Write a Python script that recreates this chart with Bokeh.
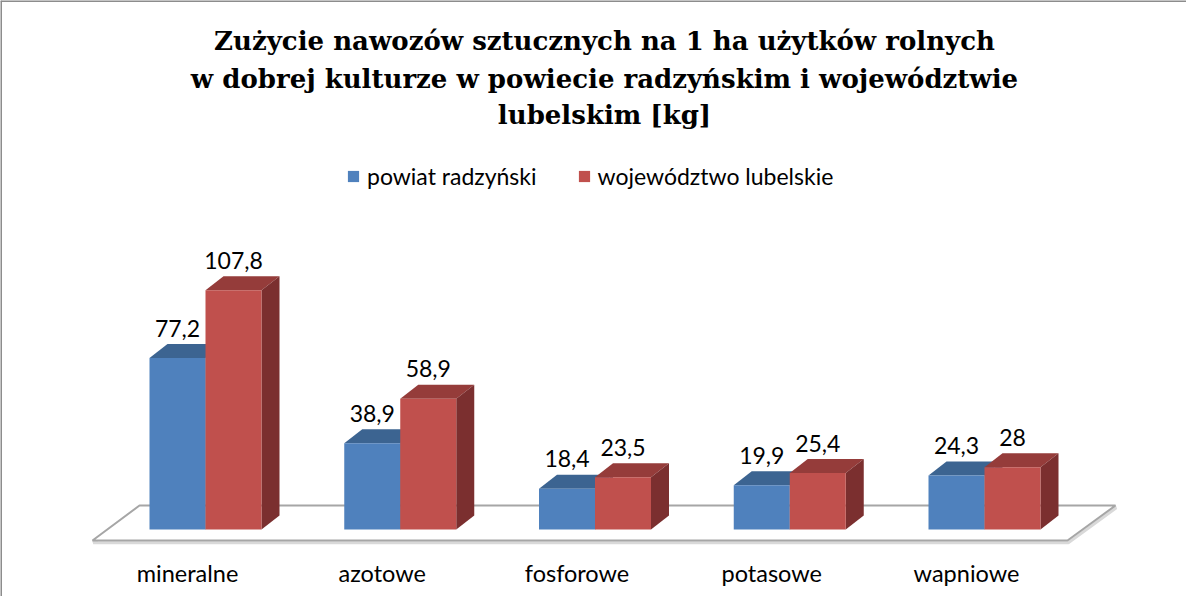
from bokeh.plotting import figure
from bokeh.models import Range1d, Label, Legend, LegendItem, Span
from bokeh.core.properties import value
from bokeh.embed import file_html
from bokeh.resources import INLINE

# ---- data ----
categories = ["mineralne", "azotowe", "fosforowe", "potasowe", "wapniowe"]
series_names = ["powiat radzyński", "województwo lubelskie"]
powiat = [77.2, 38.9, 18.4, 19.9, 24.3]
wojewodztwo = [107.8, 58.9, 23.5, 25.4, 28.0]
labels_powiat = ["77,2", "38,9", "18,4", "19,9", "24,3"]
labels_woj = ["107,8", "58,9", "23,5", "25,4", "28"]
title_lines = ["Zużycie nawozów sztucznych na 1 ha użytków rolnych",
               "w dobrej kulturze w powiecie radzyńskim i województwie",
               "lubelskim [kg]"]

# ---- layout constants ----
W, H = 1186, 596
SX = 194.75      # px per category
SY = 2.22        # px per kg
X0PX = 205       # px of first category centre
Y0PX = 529       # px (from top) of zero line
BW = 56 / SX     # bar width
DX = 18 / SX     # depth x
DY = 14 / SY     # depth y

FONT = "Lato"
TFONT = "DejaVu Serif"

p = figure(width=W, height=H, output_backend="svg", toolbar_location=None,
           x_range=Range1d(-X0PX / SX, (W - X0PX) / SX),
           y_range=Range1d(-(H - Y0PX) / SY, Y0PX / SY),
           min_border=0, outline_line_color=None)
p.axis.visible = False
p.grid.visible = False
p.background_fill_color = "white"
p.border_fill_color = "white"

# frame border (top and left)
p.add_layout(Span(location=p.y_range.end, dimension="width", line_color="#8C8C8C", line_width=3))
p.add_layout(Span(location=p.x_range.start, dimension="height", line_color="#8C8C8C", line_width=3))

# floor
fl_front = -11 / SY
fl_back = 24 / SY
fx = [(100 - 213) / SX, (147 - 213) / SX, (1123 - 213) / SX, (1075 - 213) / SX]
p.patch([v + 0.004 for v in fx],
        [fl_front - 1.0, fl_back - 1.0, fl_back - 1.0, fl_front - 1.0],
        fill_alpha=0, line_color="#D9D9D9", line_width=3)
p.patch(fx, [fl_front, fl_back, fl_back, fl_front],
        fill_color="white", line_color="#A6A6A6", line_width=2)

xs_c = list(range(len(categories)))

def top_face(x0, x1, v):
    return [x0, x1, x1 + DX, x0 + DX], [v, v, v + DY, v + DY]

def side_face(x1, v):
    return [x1, x1 + DX, x1 + DX, x1], [0, DY, v + DY, v]

# blue tops
bt = [top_face(i - BW, i, v) for i, v in zip(xs_c, powiat)]
p.patches([t[0] for t in bt], [t[1] for t in bt], fill_color="#3C6491", line_color=None)
bs = [side_face(i, v) for i, v in zip(xs_c, powiat)]
p.patches([s[0] for s in bs], [s[1] for s in bs], fill_color="#345780", line_color=None)
blue = p.vbar(x=[i - BW / 2 for i in xs_c], width=BW, top=powiat, bottom=0,
              fill_color="#4F81BD", line_color=None)

# red tops and sides
rt = [top_face(i, i + BW, v) for i, v in zip(xs_c, wojewodztwo)]
p.patches([t[0] for t in rt], [t[1] for t in rt], fill_color="#953C3A", line_color=None)
rs = [side_face(i + BW, v) for i, v in zip(xs_c, wojewodztwo)]
p.patches([s[0] for s in rs], [s[1] for s in rs], fill_color="#7B2F2F", line_color=None)
red = p.vbar(x=[i + BW / 2 for i in xs_c], width=BW, top=wojewodztwo, bottom=0,
             fill_color="#C0504D", line_color=None)

# data labels
p.text(x=[i - BW / 2 for i in xs_c], y=powiat, text=labels_powiat, y_offset=-30,
       text_align="center", text_baseline="alphabetic", text_font=value(FONT),
       text_font_size="23px", text_color="black")
p.text(x=[i + BW / 2 for i in xs_c], y=wojewodztwo, text=labels_woj, y_offset=-30,
       text_align="center", text_baseline="alphabetic", text_font=value(FONT),
       text_font_size="23px", text_color="black")

# category labels
p.text(x=[i - 18 / SX for i in xs_c], y=[0] * len(categories), text=categories, y_offset=43,
       text_align="center", text_baseline="middle", text_font=value(FONT),
       text_font_size="23.5px", text_color="black")

# title
for line, yb in zip(title_lines, [556, 518, 482]):
    p.add_layout(Label(x=604, y=yb, x_units="screen", y_units="screen", text=line,
                       text_align="center", text_baseline="alphabetic",
                       text_font=TFONT, text_font_style="bold",
                       text_font_size="26px", text_color="black"))

legend = Legend(items=[LegendItem(label=series_names[0], renderers=[blue]),
                       LegendItem(label=series_names[1], renderers=[red])],
                orientation="horizontal", location=(346, 406),
                glyph_width=14, glyph_height=14, label_standoff=7, spacing=40,
                padding=0, margin=0, border_line_color=None, background_fill_alpha=0,
                label_text_font=FONT, label_text_font_size="23px", label_text_color="black")
p.add_layout(legend, "center")

open("out.html", "w").write(file_html(p, INLINE))
